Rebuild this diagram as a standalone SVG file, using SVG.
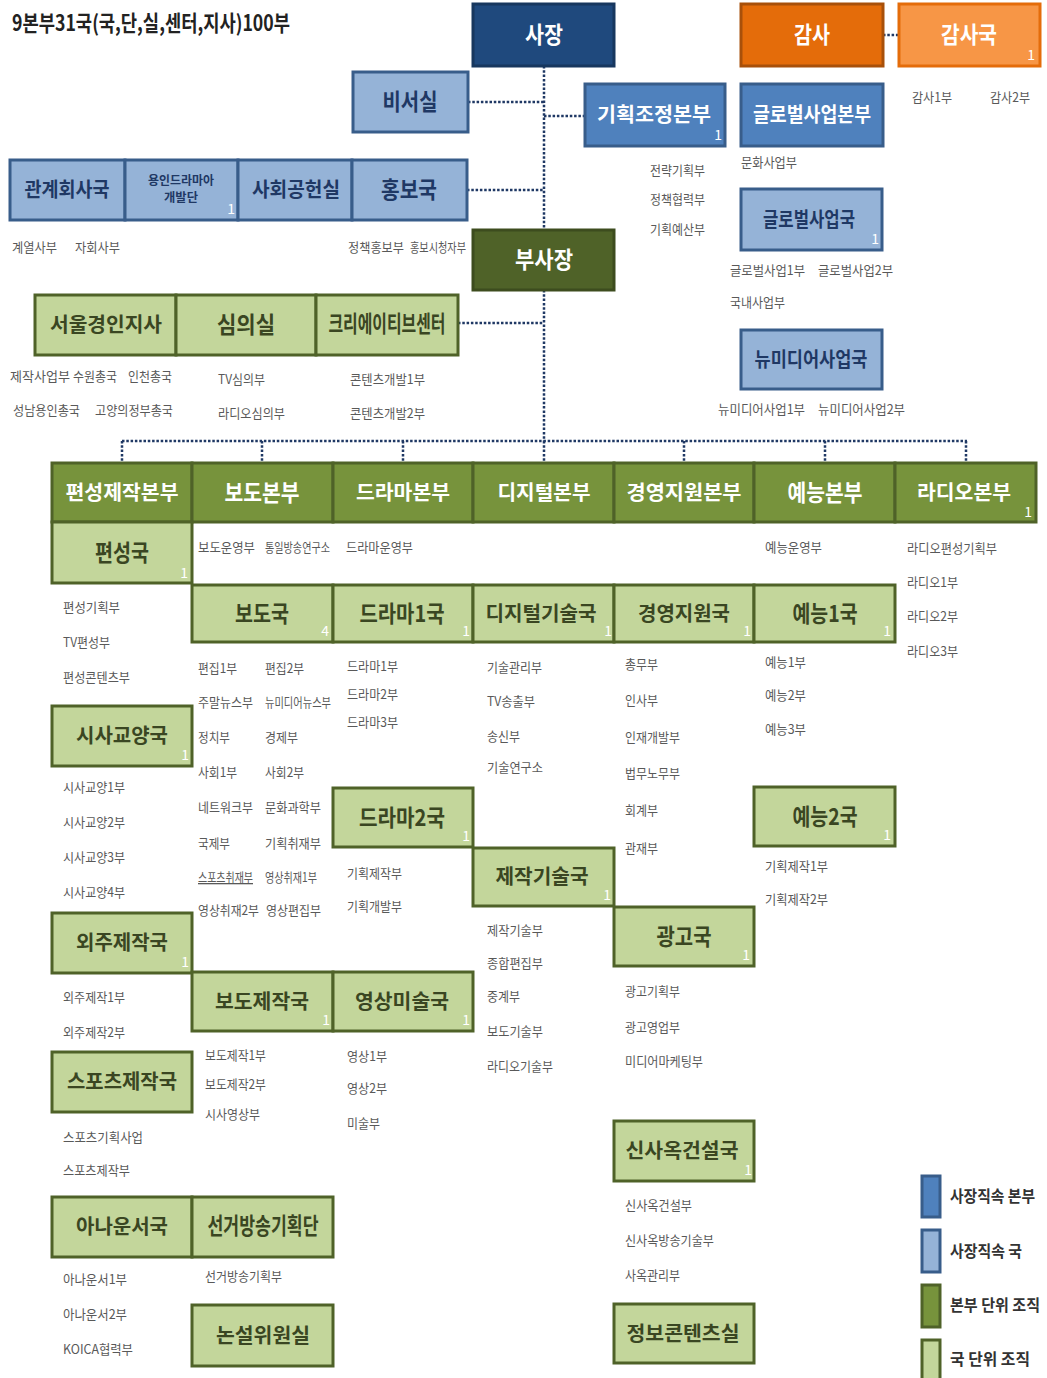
<svg xmlns="http://www.w3.org/2000/svg" width="1047" height="1378" viewBox="0 0 1047 1378">
<style>
text{font-family:"Noto Sans CJK KR","Noto Sans",sans-serif}
.lbl{font-weight:700;font-size:23px;text-anchor:middle}
.l22{font-size:22px}
.l20{font-size:20px}
.sub{font-size:13px;fill:#595959}
.num{font-size:14px;fill:#fff;text-anchor:end}
.box{stroke-width:3}
.navy{fill:#1F497D;stroke:#17375E}
.orange{fill:#E46C0A;stroke:#A8500A}
.lorange{fill:#F79646;stroke:#E46C0A}
.mblue{fill:#4F81BD;stroke:#385D8A}
.lblue{fill:#95B3D7;stroke:#385D8A}
.dgreen{fill:#4F6228;stroke:#3D4C1E}
.hgreen{fill:#77933C;stroke:#4F6228}
.lgreen{fill:#C3D69B;stroke:#4F6228}
.w{fill:#fff}
.db{fill:#1F3864}
.dg{fill:#3A4622}
.conn{fill:none;stroke:#1F3864;stroke-width:2.5;stroke-dasharray:2.5 1.8}
.leg{font-size:16px;fill:#333;font-weight:700}
</style>
<text x="12" y="31" font-size="22" font-weight="700" fill="#222" textLength="278" lengthAdjust="spacingAndGlyphs">9본부31국(국,단,실,센터,지사)100부</text>

<g id="connectors">
<path class="conn" d="M544 66V230M544 290V441M468 102H544M544 116H585M467 190H544M458 323H544M883 35H899M122 441H967M122 441V462M262 441V462M403 441V462M544 441V462M684 441V462M825 441V462M966 441V462"/>
</g>

<g id="sajang"><rect class="box navy" x="473" y="4" width="141" height="62"/><text class="lbl w" x="544" y="43" textLength="38" lengthAdjust="spacingAndGlyphs">사장</text></g>
<g id="gamsa"><rect class="box orange" x="741" y="4" width="142" height="62"/><text class="lbl w" x="812" y="43" textLength="36" lengthAdjust="spacingAndGlyphs">감사</text></g>
<g id="gamsaguk"><rect class="box lorange" x="899" y="4" width="141" height="62"/><text class="lbl w" x="969" y="43" textLength="56" lengthAdjust="spacingAndGlyphs">감사국</text><text class="num" x="1035" y="60">1</text>
<text class="sub" x="912" y="102" textLength="40" lengthAdjust="spacingAndGlyphs">감사1부</text><text class="sub" x="990" y="102" textLength="40" lengthAdjust="spacingAndGlyphs">감사2부</text></g>
<g id="biseo"><rect class="box lblue" x="353" y="72" width="115" height="60"/><text class="lbl db" x="410" y="110" textLength="55" lengthAdjust="spacingAndGlyphs">비서실</text></g>
<g id="gihoek"><rect class="box mblue" x="585" y="84" width="140" height="62"/><text class="lbl l20 w" x="654" y="122" textLength="114" lengthAdjust="spacingAndGlyphs">기획조정본부</text><text class="num" x="722" y="140">1</text>
<text class="sub" x="650" y="175" textLength="55" lengthAdjust="spacingAndGlyphs">전략기획부</text><text class="sub" x="650" y="204" textLength="55" lengthAdjust="spacingAndGlyphs">정책협력부</text><text class="sub" x="650" y="234" textLength="55" lengthAdjust="spacingAndGlyphs">기획예산부</text></g>
<g id="global-bonbu"><rect class="box mblue" x="741" y="84" width="142" height="62"/><text class="lbl l20 w" x="812" y="122" textLength="118" lengthAdjust="spacingAndGlyphs">글로벌사업본부</text>
<text class="sub" x="741" y="167" textLength="56" lengthAdjust="spacingAndGlyphs">문화사업부</text></g>
<g id="global-guk"><rect class="box lblue" x="741" y="189" width="141" height="61"/><text class="lbl l20 db" x="809" y="227" textLength="92" lengthAdjust="spacingAndGlyphs">글로벌사업국</text><text class="num" x="879" y="244">1</text>
<text class="sub" x="730" y="275" textLength="75" lengthAdjust="spacingAndGlyphs">글로벌사업1부</text><text class="sub" x="818" y="275" textLength="75" lengthAdjust="spacingAndGlyphs">글로벌사업2부</text><text class="sub" x="730" y="307" textLength="55" lengthAdjust="spacingAndGlyphs">국내사업부</text></g>
<g id="newmedia"><rect class="box lblue" x="741" y="330" width="141" height="59"/><text class="lbl l20 db" x="811" y="367" textLength="113" lengthAdjust="spacingAndGlyphs">뉴미디어사업국</text>
<text class="sub" x="718" y="414" textLength="87" lengthAdjust="spacingAndGlyphs">뉴미디어사업1부</text><text class="sub" x="818" y="414" textLength="87" lengthAdjust="spacingAndGlyphs">뉴미디어사업2부</text></g>

<g id="gwangye"><rect class="box lblue" x="10" y="160" width="115" height="60"/><text class="lbl l20 db" x="67" y="197" textLength="85" lengthAdjust="spacingAndGlyphs">관계회사국</text>
<text class="sub" x="12" y="252" textLength="45" lengthAdjust="spacingAndGlyphs">계열사부</text><text class="sub" x="75" y="252" textLength="45" lengthAdjust="spacingAndGlyphs">자회사부</text></g>
<g id="yongin"><rect class="box lblue" x="125" y="160" width="113" height="60"/><text class="db" x="181" y="185" font-size="12" font-weight="700" text-anchor="middle" textLength="66" lengthAdjust="spacingAndGlyphs">용인드라마아</text><text class="db" x="181" y="202" font-size="12" font-weight="700" text-anchor="middle" textLength="34" lengthAdjust="spacingAndGlyphs">개발단</text><text class="num" x="235" y="214">1</text></g>
<g id="sahoe"><rect class="box lblue" x="238" y="160" width="114" height="60"/><text class="lbl l20 db" x="296" y="197" textLength="88" lengthAdjust="spacingAndGlyphs">사회공헌실</text></g>
<g id="hongbo"><rect class="box lblue" x="352" y="160" width="115" height="60"/><text class="lbl db" x="409" y="198" textLength="56" lengthAdjust="spacingAndGlyphs">홍보국</text>
<text class="sub" x="348" y="252" textLength="56" lengthAdjust="spacingAndGlyphs">정책홍보부</text><text class="sub" x="410" y="252" textLength="56" lengthAdjust="spacingAndGlyphs">홍보시청자부</text></g>

<g id="busajang"><rect class="box dgreen" x="473" y="230" width="141" height="60"/><text class="lbl w" x="544" y="268" textLength="58" lengthAdjust="spacingAndGlyphs">부사장</text></g>

<g id="seoul"><rect class="box lgreen" x="35" y="295" width="141" height="60"/><text class="lbl l20 dg" x="106" y="332" textLength="112" lengthAdjust="spacingAndGlyphs">서울경인지사</text>
<text class="sub" x="10" y="381" textLength="60" lengthAdjust="spacingAndGlyphs">제작사업부</text><text class="sub" x="73" y="381" textLength="44" lengthAdjust="spacingAndGlyphs">수원총국</text><text class="sub" x="128" y="381" textLength="44" lengthAdjust="spacingAndGlyphs">인천총국</text>
<text class="sub" x="13" y="415" textLength="67" lengthAdjust="spacingAndGlyphs">성남용인총국</text><text class="sub" x="95" y="415" textLength="78" lengthAdjust="spacingAndGlyphs">고양의정부총국</text></g>
<g id="simui"><rect class="box lgreen" x="176" y="295" width="140" height="60"/><text class="lbl dg" x="246" y="333" textLength="58" lengthAdjust="spacingAndGlyphs">심의실</text>
<text class="sub" x="218" y="384" textLength="47" lengthAdjust="spacingAndGlyphs">TV심의부</text><text class="sub" x="218" y="418" textLength="67" lengthAdjust="spacingAndGlyphs">라디오심의부</text></g>
<g id="creative"><rect class="box lgreen" x="316" y="295" width="142" height="60"/><text class="lbl dg" x="387" y="332" font-size="16" textLength="117" lengthAdjust="spacingAndGlyphs">크리에이티브센터</text>
<text class="sub" x="350" y="384" textLength="75" lengthAdjust="spacingAndGlyphs">콘텐츠개발1부</text><text class="sub" x="350" y="418" textLength="75" lengthAdjust="spacingAndGlyphs">콘텐츠개발2부</text></g>

<g id="pyeonseong-bonbu"><rect class="box hgreen" x="52" y="463" width="140" height="59"/><text class="lbl l20 w" x="122" y="500" textLength="113" lengthAdjust="spacingAndGlyphs">편성제작본부</text></g>
<g id="bodo-bonbu"><rect class="box hgreen" x="192" y="463" width="141" height="59"/><text class="lbl w" x="262" y="501" textLength="75" lengthAdjust="spacingAndGlyphs">보도본부</text>
<text class="sub" x="198" y="552" textLength="57" lengthAdjust="spacingAndGlyphs">보도운영부</text><text class="sub" x="265" y="552" font-size="11" textLength="65" lengthAdjust="spacingAndGlyphs">통일방송연구소</text></g>
<g id="drama-bonbu"><rect class="box hgreen" x="333" y="463" width="140" height="59"/><text class="lbl l20 w" x="403" y="500" textLength="94" lengthAdjust="spacingAndGlyphs">드라마본부</text>
<text class="sub" x="346" y="552" textLength="67" lengthAdjust="spacingAndGlyphs">드라마운영부</text></g>
<g id="digital-bonbu"><rect class="box hgreen" x="473" y="463" width="141" height="59"/><text class="lbl l20 w" x="544" y="500" textLength="93" lengthAdjust="spacingAndGlyphs">디지털본부</text></g>
<g id="gyeongyeong-bonbu"><rect class="box hgreen" x="614" y="463" width="140" height="59"/><text class="lbl l20 w" x="684" y="500" textLength="115" lengthAdjust="spacingAndGlyphs">경영지원본부</text></g>
<g id="yeneung-bonbu"><rect class="box hgreen" x="754" y="463" width="141" height="59"/><text class="lbl w" x="825" y="501" textLength="75" lengthAdjust="spacingAndGlyphs">예능본부</text>
<text class="sub" x="765" y="552" textLength="57" lengthAdjust="spacingAndGlyphs">예능운영부</text></g>
<g id="radio-bonbu"><rect class="box hgreen" x="895" y="463" width="141" height="59"/><text class="lbl l20 w" x="964" y="500" textLength="94" lengthAdjust="spacingAndGlyphs">라디오본부</text><text class="num" x="1032" y="517">1</text>
<text class="sub" x="907" y="553" textLength="90" lengthAdjust="spacingAndGlyphs">라디오편성기획부</text><text class="sub" x="907" y="587" textLength="51" lengthAdjust="spacingAndGlyphs">라디오1부</text><text class="sub" x="907" y="621" textLength="51" lengthAdjust="spacingAndGlyphs">라디오2부</text><text class="sub" x="907" y="656" textLength="51" lengthAdjust="spacingAndGlyphs">라디오3부</text></g>

<g id="pyeonseong-guk"><rect class="box lgreen" x="52" y="522" width="140" height="61"/><text class="lbl dg" x="122" y="561" textLength="54" lengthAdjust="spacingAndGlyphs">편성국</text><text class="num" x="188" y="578">1</text>
<text class="sub" x="63" y="612" textLength="57" lengthAdjust="spacingAndGlyphs">편성기획부</text><text class="sub" x="63" y="647" textLength="47" lengthAdjust="spacingAndGlyphs">TV편성부</text><text class="sub" x="63" y="682" textLength="67" lengthAdjust="spacingAndGlyphs">편성콘텐츠부</text></g>

<g id="bodo-guk"><rect class="box lgreen" x="192" y="585" width="141" height="57"/><text class="lbl dg" x="262" y="622" textLength="54" lengthAdjust="spacingAndGlyphs">보도국</text><text class="num" x="329" y="636">4</text>
<text class="sub" x="198" y="673" textLength="39" lengthAdjust="spacingAndGlyphs">편집1부</text><text class="sub" x="265" y="673" textLength="39" lengthAdjust="spacingAndGlyphs">편집2부</text>
<text class="sub" x="198" y="707" textLength="55" lengthAdjust="spacingAndGlyphs">주말뉴스부</text><text class="sub" x="265" y="707" font-size="11" textLength="66" lengthAdjust="spacingAndGlyphs">뉴미디어뉴스부</text>
<text class="sub" x="198" y="742" textLength="32" lengthAdjust="spacingAndGlyphs">정치부</text><text class="sub" x="265" y="742" textLength="33" lengthAdjust="spacingAndGlyphs">경제부</text>
<text class="sub" x="198" y="777" textLength="39" lengthAdjust="spacingAndGlyphs">사회1부</text><text class="sub" x="265" y="777" textLength="39" lengthAdjust="spacingAndGlyphs">사회2부</text>
<text class="sub" x="198" y="812" textLength="55" lengthAdjust="spacingAndGlyphs">네트워크부</text><text class="sub" x="265" y="812" textLength="56" lengthAdjust="spacingAndGlyphs">문화과학부</text>
<text class="sub" x="198" y="848" textLength="32" lengthAdjust="spacingAndGlyphs">국제부</text><text class="sub" x="265" y="848" textLength="56" lengthAdjust="spacingAndGlyphs">기획취재부</text>
<text class="sub" x="198" y="882" textLength="55" lengthAdjust="spacingAndGlyphs" text-decoration="underline">스포츠취재부</text><text class="sub" x="265" y="882" textLength="52" lengthAdjust="spacingAndGlyphs">영상취재1부</text>
<text class="sub" x="198" y="915" textLength="61" lengthAdjust="spacingAndGlyphs">영상취재2부</text><text class="sub" x="266" y="915" textLength="55" lengthAdjust="spacingAndGlyphs">영상편집부</text></g>
<g id="drama1-guk"><rect class="box lgreen" x="333" y="585" width="140" height="57"/><text class="lbl dg" x="402" y="622" textLength="85" lengthAdjust="spacingAndGlyphs">드라마1국</text><text class="num" x="470" y="636">1</text>
<text class="sub" x="347" y="671" textLength="51" lengthAdjust="spacingAndGlyphs">드라마1부</text><text class="sub" x="347" y="699" textLength="51" lengthAdjust="spacingAndGlyphs">드라마2부</text><text class="sub" x="347" y="727" textLength="51" lengthAdjust="spacingAndGlyphs">드라마3부</text></g>
<g id="digitaltech-guk"><rect class="box lgreen" x="473" y="585" width="141" height="57"/><text class="lbl l20 dg" x="541" y="621" textLength="111" lengthAdjust="spacingAndGlyphs">디지털기술국</text><text class="num" x="612" y="636">1</text>
<text class="sub" x="487" y="672" textLength="55" lengthAdjust="spacingAndGlyphs">기술관리부</text><text class="sub" x="487" y="706" textLength="48" lengthAdjust="spacingAndGlyphs">TV송출부</text><text class="sub" x="487" y="741" textLength="33" lengthAdjust="spacingAndGlyphs">송신부</text><text class="sub" x="487" y="772" textLength="56" lengthAdjust="spacingAndGlyphs">기술연구소</text></g>
<g id="gyeongyeong-guk"><rect class="box lgreen" x="614" y="585" width="140" height="57"/><text class="lbl l20 dg" x="684" y="621" textLength="92" lengthAdjust="spacingAndGlyphs">경영지원국</text><text class="num" x="751" y="636">1</text>
<text class="sub" x="625" y="669" textLength="33" lengthAdjust="spacingAndGlyphs">총무부</text><text class="sub" x="625" y="705" textLength="33" lengthAdjust="spacingAndGlyphs">인사부</text><text class="sub" x="625" y="742" textLength="55" lengthAdjust="spacingAndGlyphs">인재개발부</text><text class="sub" x="625" y="778" textLength="55" lengthAdjust="spacingAndGlyphs">법무노무부</text><text class="sub" x="625" y="815" textLength="33" lengthAdjust="spacingAndGlyphs">회계부</text><text class="sub" x="625" y="853" textLength="33" lengthAdjust="spacingAndGlyphs">관재부</text></g>
<g id="yeneung1-guk"><rect class="box lgreen" x="754" y="585" width="141" height="57"/><text class="lbl dg" x="825" y="622" textLength="65" lengthAdjust="spacingAndGlyphs">예능1국</text><text class="num" x="891" y="636">1</text>
<text class="sub" x="765" y="667" textLength="41" lengthAdjust="spacingAndGlyphs">예능1부</text><text class="sub" x="765" y="700" textLength="41" lengthAdjust="spacingAndGlyphs">예능2부</text><text class="sub" x="765" y="734" textLength="41" lengthAdjust="spacingAndGlyphs">예능3부</text></g>

<g id="sisa-guk"><rect class="box lgreen" x="52" y="706" width="140" height="60"/><text class="lbl l20 dg" x="122" y="743" textLength="92" lengthAdjust="spacingAndGlyphs">시사교양국</text><text class="num" x="189" y="760">1</text>
<text class="sub" x="63" y="792" textLength="62" lengthAdjust="spacingAndGlyphs">시사교양1부</text><text class="sub" x="63" y="827" textLength="62" lengthAdjust="spacingAndGlyphs">시사교양2부</text><text class="sub" x="63" y="862" textLength="62" lengthAdjust="spacingAndGlyphs">시사교양3부</text><text class="sub" x="63" y="897" textLength="62" lengthAdjust="spacingAndGlyphs">시사교양4부</text></g>
<g id="drama2-guk"><rect class="box lgreen" x="333" y="788" width="140" height="59"/><text class="lbl dg" x="402" y="826" textLength="86" lengthAdjust="spacingAndGlyphs">드라마2국</text><text class="num" x="470" y="841">1</text>
<text class="sub" x="347" y="878" textLength="55" lengthAdjust="spacingAndGlyphs">기획제작부</text><text class="sub" x="347" y="911" textLength="55" lengthAdjust="spacingAndGlyphs">기획개발부</text></g>
<g id="jejaktech-guk"><rect class="box lgreen" x="473" y="848" width="141" height="58"/><text class="lbl l20 dg" x="542" y="884" textLength="93" lengthAdjust="spacingAndGlyphs">제작기술국</text><text class="num" x="611" y="900">1</text>
<text class="sub" x="487" y="935" textLength="56" lengthAdjust="spacingAndGlyphs">제작기술부</text><text class="sub" x="487" y="968" textLength="56" lengthAdjust="spacingAndGlyphs">종합편집부</text><text class="sub" x="487" y="1001" textLength="33" lengthAdjust="spacingAndGlyphs">중계부</text><text class="sub" x="487" y="1036" textLength="56" lengthAdjust="spacingAndGlyphs">보도기술부</text><text class="sub" x="487" y="1071" textLength="66" lengthAdjust="spacingAndGlyphs">라디오기술부</text></g>
<g id="yeneung2-guk"><rect class="box lgreen" x="754" y="787" width="141" height="59"/><text class="lbl dg" x="825" y="825" textLength="65" lengthAdjust="spacingAndGlyphs">예능2국</text><text class="num" x="891" y="840">1</text>
<text class="sub" x="765" y="871" textLength="63" lengthAdjust="spacingAndGlyphs">기획제작1부</text><text class="sub" x="765" y="904" textLength="63" lengthAdjust="spacingAndGlyphs">기획제작2부</text></g>
<g id="oeju-guk"><rect class="box lgreen" x="52" y="913" width="140" height="60"/><text class="lbl l20 dg" x="122" y="950" textLength="92" lengthAdjust="spacingAndGlyphs">외주제작국</text><text class="num" x="189" y="967">1</text>
<text class="sub" x="63" y="1002" textLength="62" lengthAdjust="spacingAndGlyphs">외주제작1부</text><text class="sub" x="63" y="1037" textLength="62" lengthAdjust="spacingAndGlyphs">외주제작2부</text></g>
<g id="gwanggo-guk"><rect class="box lgreen" x="614" y="907" width="140" height="59"/><text class="lbl dg" x="684" y="945" textLength="55" lengthAdjust="spacingAndGlyphs">광고국</text><text class="num" x="750" y="960">1</text>
<text class="sub" x="625" y="996" textLength="55" lengthAdjust="spacingAndGlyphs">광고기획부</text><text class="sub" x="625" y="1032" textLength="55" lengthAdjust="spacingAndGlyphs">광고영업부</text><text class="sub" x="625" y="1066" textLength="78" lengthAdjust="spacingAndGlyphs">미디어마케팅부</text></g>
<g id="bodojejak-guk"><rect class="box lgreen" x="192" y="972" width="141" height="59"/><text class="lbl l20 dg" x="262" y="1009" textLength="94" lengthAdjust="spacingAndGlyphs">보도제작국</text><text class="num" x="330" y="1025">1</text>
<text class="sub" x="205" y="1060" textLength="61" lengthAdjust="spacingAndGlyphs">보도제작1부</text><text class="sub" x="205" y="1089" textLength="61" lengthAdjust="spacingAndGlyphs">보도제작2부</text><text class="sub" x="205" y="1119" textLength="55" lengthAdjust="spacingAndGlyphs">시사영상부</text></g>
<g id="yeongsang-guk"><rect class="box lgreen" x="333" y="972" width="140" height="59"/><text class="lbl l20 dg" x="402" y="1009" textLength="94" lengthAdjust="spacingAndGlyphs">영상미술국</text><text class="num" x="470" y="1025">1</text>
<text class="sub" x="347" y="1061" textLength="40" lengthAdjust="spacingAndGlyphs">영상1부</text><text class="sub" x="347" y="1093" textLength="40" lengthAdjust="spacingAndGlyphs">영상2부</text><text class="sub" x="347" y="1128" textLength="33" lengthAdjust="spacingAndGlyphs">미술부</text></g>
<g id="sports-guk"><rect class="box lgreen" x="52" y="1052" width="140" height="60"/><text class="lbl l20 dg" x="122" y="1089" textLength="110" lengthAdjust="spacingAndGlyphs">스포츠제작국</text>
<text class="sub" x="63" y="1142" textLength="80" lengthAdjust="spacingAndGlyphs">스포츠기획사업</text><text class="sub" x="63" y="1175" textLength="67" lengthAdjust="spacingAndGlyphs">스포츠제작부</text></g>
<g id="sinsaok-guk"><rect class="box lgreen" x="614" y="1121" width="140" height="60"/><text class="lbl l20 dg" x="682" y="1158" textLength="113" lengthAdjust="spacingAndGlyphs">신사옥건설국</text><text class="num" x="752" y="1175">1</text>
<text class="sub" x="625" y="1210" textLength="67" lengthAdjust="spacingAndGlyphs">신사옥건설부</text><text class="sub" x="625" y="1245" textLength="89" lengthAdjust="spacingAndGlyphs">신사옥방송기술부</text><text class="sub" x="625" y="1280" textLength="55" lengthAdjust="spacingAndGlyphs">사옥관리부</text></g>
<g id="announcer-guk"><rect class="box lgreen" x="52" y="1197" width="140" height="60"/><text class="lbl l20 dg" x="122" y="1234" textLength="92" lengthAdjust="spacingAndGlyphs">아나운서국</text>
<text class="sub" x="63" y="1284" textLength="64" lengthAdjust="spacingAndGlyphs">아나운서1부</text><text class="sub" x="63" y="1319" textLength="64" lengthAdjust="spacingAndGlyphs">아나운서2부</text><text class="sub" x="63" y="1354" textLength="70" lengthAdjust="spacingAndGlyphs">KOICA협력부</text></g>
<g id="election"><rect class="box lgreen" x="192" y="1197" width="141" height="60"/><text class="lbl dg" x="263" y="1234" font-size="17" textLength="111" lengthAdjust="spacingAndGlyphs">선거방송기획단</text>
<text class="sub" x="205" y="1281" textLength="77" lengthAdjust="spacingAndGlyphs">선거방송기획부</text></g>
<g id="nonseol"><rect class="box lgreen" x="192" y="1305" width="141" height="61"/><text class="lbl l20 dg" x="263" y="1343" textLength="94" lengthAdjust="spacingAndGlyphs">논설위원실</text></g>
<g id="jeongbo"><rect class="box lgreen" x="614" y="1304" width="140" height="59"/><text class="lbl l20 dg" x="683" y="1341" textLength="113" lengthAdjust="spacingAndGlyphs">정보콘텐츠실</text></g>

<g id="legend">
<rect class="box mblue" x="922" y="1176" width="18" height="41" stroke-width="2.5"/><text class="leg" x="950" y="1202" textLength="85" lengthAdjust="spacingAndGlyphs">사장직속 본부</text>
<rect class="box lblue" x="922" y="1230" width="18" height="42" stroke-width="2.5"/><text class="leg" x="950" y="1257" textLength="72" lengthAdjust="spacingAndGlyphs">사장직속 국</text>
<rect class="box hgreen" x="922" y="1285" width="18" height="42" stroke-width="2.5"/><text class="leg" x="950" y="1311" textLength="90" lengthAdjust="spacingAndGlyphs">본부 단위 조직</text>
<rect class="box lgreen" x="922" y="1340" width="18" height="40" stroke-width="2.5"/><text class="leg" x="950" y="1365" textLength="80" lengthAdjust="spacingAndGlyphs">국 단위 조직</text>
</g>
</svg>
